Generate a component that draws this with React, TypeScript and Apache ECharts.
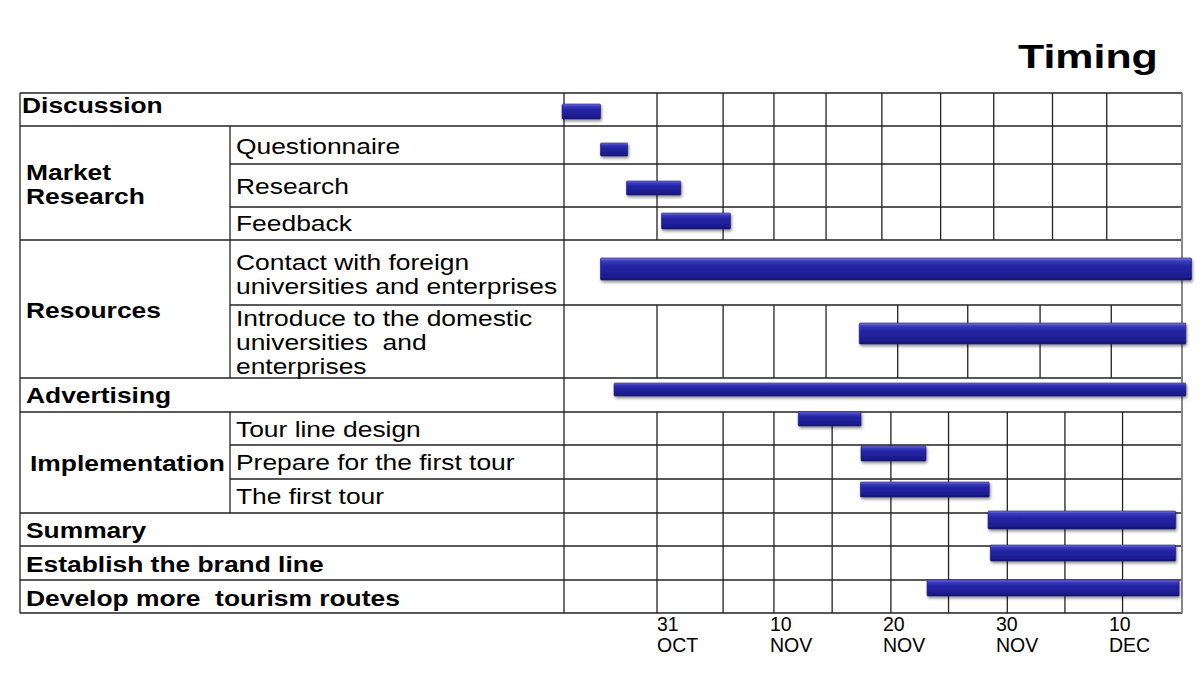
import { useEffect, useRef } from "react";
import * as echarts from "echarts";

// ---------- data (days counted from 31 October = day 0) ----------
const tasks = [
  "Discussion",
  "Questionnaire",
  "Research",
  "Feedback",
  "Contact with foreign universities and enterprises",
  "Introduce to the domestic universities and enterprises",
  "Advertising",
  "Tour line design",
  "Prepare for the first tour",
  "The first tour",
  "Summary",
  "Establish the brand line",
  "Develop more tourism routes",
];
const taskStart = [-8.4, -5.0, -2.7, 0.4, -5.0, 17.9, -3.8, 12.5, 18.05, 18.0, 29.3, 29.5, 23.9];
const taskEnd = [-5.0, -2.6, 2.1, 6.5, 47.3, 46.8, 46.8, 18.05, 23.8, 29.4, 45.9, 45.9, 46.2];
const tickDays = [0, 10, 20, 30, 40];
const tickLabels = ["31\nOCT", "10\nNOV", "20\nNOV", "30\nNOV", "10\nDEC"];

// group (bold) labels and sub-task labels of the table
const groupLabels = [
  "Discussion",
  "Market\nResearch",
  "Resources",
  "Advertising",
  "Implementation",
  "Summary",
  "Establish the brand line",
  "Develop more  tourism routes",
];
const subLabels = [
  "Questionnaire",
  "Research",
  "Feedback",
  "Contact with foreign\nuniversities and enterprises",
  "Introduce to the domestic\nuniversities  and\nenterprises",
  "Tour line design",
  "Prepare for the first tour",
  "The first tour",
];
const titleText = "Timing";

// ---------- layout (pixels / table units) ----------
const TABLE_TOP = 93;
const TABLE_LEFT = 20;
const COL1 = 230;
const COL2 = 564;
const TABLE_RIGHT = 1182;
const TABLE_H = 520;
const XMIN = -8.23;
const XMAX = 46.46;
// y positions in table units (px from table top)
const barTop = [11, 50, 88, 120, 165, 230, 290, 319, 353, 389, 418, 452, 487];
const barH = [15, 13, 14, 16, 22, 21, 13, 14, 15, 15, 18, 16, 16];
const fullRules = [0, 33, 147, 285, 319, 420, 453, 487, 520];
const partRules = [71, 114, 212, 352, 386];
const col1Spans = [
  [33, 285],
  [319, 420],
];
// vertical day rules for the three gridded parts of the table
const dayRuleSections = [
  { y0: 0, y1: 147, days: [0, 5.85, 10.35, 14.96, 19.9, 25.1, 29.8, 35.0, 39.8] },
  { y0: 212, y1: 285, days: [0, 5.85, 10.35, 14.96, 21.3, 27.5, 33.9, 40.2] },
  { y0: 319, y1: 520, days: [0, 5.85, 10.35, 15.5, 20.7, 25.8, 31.0, 36.1, 41.2] },
];
const groupPos = [
  [22, 12],
  [26, 91],
  [26, 217],
  [26, 302],
  [30, 370],
  [26, 437],
  [26, 471],
  [26, 505],
];
const subPos = [53, 93, 130, 181, 249, 336, 369, 403];

const FONT = "'Liberation Sans', Arial, sans-serif";
const SX = 1.2;

export default function App() {
  const ref = useRef<HTMLDivElement>(null);
  useEffect(() => {
    if (!ref.current) return;
    const chart = echarts.init(ref.current, undefined, { renderer: "svg" });

    const lineStyle = { stroke: "#222", lineWidth: 1.3 };
    const texts: any[] = [];
    groupLabels.forEach((t, i) => {
      texts.push({
        type: "text",
        x: groupPos[i][0],
        y: TABLE_TOP + groupPos[i][1],
        scaleX: SX,
        z: 10,
        style: {
          text: t,
          fill: "#000",
          fontSize: 22,
          fontWeight: "bold",
          fontFamily: FONT,
          lineHeight: 24,
          align: "left",
          verticalAlign: "middle",
        },
      });
    });
    subLabels.forEach((t, i) => {
      texts.push({
        type: "text",
        x: 236,
        y: TABLE_TOP + subPos[i],
        scaleX: SX,
        z: 10,
        style: {
          text: t,
          fill: "#000",
          fontSize: 22,
          fontFamily: FONT,
          lineHeight: 24,
          align: "left",
          verticalAlign: "middle",
        },
      });
    });
    texts.push({
      type: "text",
      x: 1018,
      y: 56,
      scaleX: 1.3,
      z: 10,
      style: {
        text: titleText,
        fill: "#000",
        fontSize: 33,
        fontWeight: "bold",
        fontFamily: FONT,
        align: "left",
        verticalAlign: "middle",
        shadowColor: "rgba(0,0,0,0.5)",
        shadowBlur: 4,
        shadowOffsetX: 2,
        shadowOffsetY: 2,
      },
    });

    const barFill = new echarts.graphic.LinearGradient(0, 0, 0, 1, [
      { offset: 0, color: "#7c7ce8" },
      { offset: 0.14, color: "#3b3bc0" },
      { offset: 0.35, color: "#2525a6" },
      { offset: 0.85, color: "#1c1c8e" },
      { offset: 1, color: "#13136c" },
    ]);

    chart.setOption({
      animation: false,
      backgroundColor: "#fff",
      grid: { left: COL2, top: TABLE_TOP, width: TABLE_RIGHT - COL2, height: TABLE_H },
      xAxis: {
        type: "value",
        min: XMIN,
        max: XMAX,
        axisLine: { show: false },
        axisTick: { show: false },
        splitLine: { show: false },
        axisLabel: {
          customValues: tickDays,
          formatter: (v: number) => tickLabels[tickDays.indexOf(v)] ?? "",
          align: "left",
          fontSize: 19.5,
          lineHeight: 20.5,
          color: "#000",
          fontFamily: FONT,
          margin: 1,
        },
      },
      yAxis: {
        type: "value",
        min: 0,
        max: TABLE_H,
        inverse: true,
        show: false,
      },
      graphic: texts,
      series: [
        {
          type: "custom",
          name: "table",
          silent: true,
          clip: false,
          data: [[0, 0]],
          renderItem: (_p: any, api: any) => {
            const Y = (v: number) => api.coord([0, v])[1];
            const X = (d: number) => api.coord([d, 0])[0];
            const children: any[] = [];
            fullRules.forEach((r) =>
              children.push({ type: "line", shape: { x1: TABLE_LEFT, y1: Y(r), x2: TABLE_RIGHT, y2: Y(r) }, style: lineStyle })
            );
            partRules.forEach((r) =>
              children.push({ type: "line", shape: { x1: COL1, y1: Y(r), x2: TABLE_RIGHT, y2: Y(r) }, style: lineStyle })
            );
            children.push({ type: "line", shape: { x1: TABLE_LEFT, y1: Y(0), x2: TABLE_LEFT, y2: Y(TABLE_H) }, style: lineStyle });
            children.push({ type: "line", shape: { x1: COL2, y1: Y(0), x2: COL2, y2: Y(TABLE_H) }, style: lineStyle });
            children.push({
              type: "line",
              shape: { x1: TABLE_RIGHT, y1: Y(0), x2: TABLE_RIGHT, y2: Y(TABLE_H) },
              style: { stroke: "#888", lineWidth: 2 },
            });
            col1Spans.forEach(([a, b]) =>
              children.push({ type: "line", shape: { x1: COL1, y1: Y(a), x2: COL1, y2: Y(b) }, style: lineStyle })
            );
            dayRuleSections.forEach((s) =>
              s.days.forEach((d) =>
                children.push({ type: "line", shape: { x1: X(d), y1: Y(s.y0), x2: X(d), y2: Y(s.y1) }, style: lineStyle })
              )
            );
            return { type: "group", children };
          },
        },
        {
          type: "custom",
          name: "tasks",
          clip: false,
          encode: { x: [0, 1] },
          data: tasks.map((_t, i) => [taskStart[i], taskEnd[i], i]),
          renderItem: (_p: any, api: any) => {
            const i = api.value(2);
            const a = api.coord([api.value(0), barTop[i]]);
            const b = api.coord([api.value(1), barTop[i] + barH[i]]);
            return {
              type: "rect",
              z2: 5,
              shape: { x: a[0], y: a[1], width: b[0] - a[0], height: b[1] - a[1], r: 1 },
              style: {
                fill: barFill,
                stroke: "#14146a",
                lineWidth: 0.6,
                shadowBlur: 3,
                shadowColor: "rgba(0,0,0,0.45)",
                shadowOffsetX: 1,
                shadowOffsetY: 2,
              },
            };
          },
        },
      ],
    });
    return () => chart.dispose();
  }, []);
  return (
    <div
      ref={ref}
      style={{ position: "absolute", left: 0, top: 0, width: 1200, height: 680, background: "#fff" }}
    />
  );
}
